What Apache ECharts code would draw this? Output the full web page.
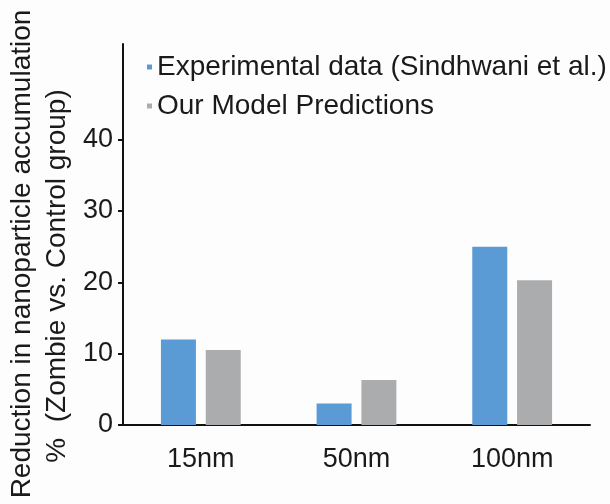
<!DOCTYPE html>
<html>
<head>
<meta charset="utf-8">
<script src="https://cdn.jsdelivr.net/npm/echarts@6/dist/echarts.min.js"></script>
<style>
html,body{margin:0;padding:0;background:#fdfdfd;}
#c{width:610px;height:504px;}
</style>
</head>
<body>
<div id="c"></div>
<script>
const categories = ['15nm', '50nm', '100nm'];
const seriesNames = ['Experimental data (Sindhwani et al.)', 'Our Model Predictions'];
const experimental = [12.0, 3.0, 25.0];
const model = [10.5, 6.3, 20.3];
const yTicks = [0, 10, 20, 30, 40];
const yTitle1 = 'Reduction in nanoparticle accumulation';
const yTitle2 = '%  (Zombie vs. Control group)';

const FONT = '"Liberation Sans", Arial, sans-serif';
const chart = echarts.init(document.getElementById('c'), null, {renderer: 'canvas'});
chart.setOption({
  backgroundColor: '#fdfdfd',
  animation: false,
  textStyle: {fontFamily: FONT},
  grid: {left: 123, right: 20, top: 44, bottom: 79, containLabel: false},
  legend: {
    orient: 'vertical',
    left: 142,
    top: 48,
    itemWidth: 5,
    itemHeight: 5,
    itemGap: 11,
    icon: 'rect',
    data: seriesNames,
    textStyle: {fontSize: 28, color: '#1a1a1a', fontFamily: FONT}
  },
  xAxis: {
    type: 'category',
    data: categories,
    axisLine: {show: true, lineStyle: {color: '#111', width: 2}},
    axisTick: {show: false},
    axisLabel: {fontSize: 27, color: '#1a1a1a', margin: 21, fontFamily: FONT},
    splitLine: {show: false}
  },
  yAxis: {
    type: 'value',
    min: 0,
    max: 53.4,
    interval: 10,
    axisLine: {show: true, lineStyle: {color: '#111', width: 2}},
    axisTick: {show: true, length: 5, lineStyle: {color: '#111', width: 2}, customValues: yTicks},
    axisLabel: {fontSize: 27, color: '#1a1a1a', margin: 10, fontFamily: FONT, customValues: yTicks},
    splitLine: {show: false}
  },
  series: [
    {
      name: seriesNames[0],
      type: 'bar',
      data: experimental,
      barWidth: 35,
      barGap: '28%',
      itemStyle: {color: '#5b9bd5'}
    },
    {
      name: seriesNames[1],
      type: 'bar',
      data: model,
      barWidth: 35,
      itemStyle: {color: '#abacae'}
    }
  ],
  graphic: [
    {
      type: 'text',
      x: 22, y: 254,
      rotation: Math.PI / 2,
      style: {text: yTitle1, fontSize: 28, fill: '#1a1a1a', align: 'center', verticalAlign: 'middle', fontFamily: FONT}
    },
    {
      type: 'text',
      x: 57, y: 276,
      rotation: Math.PI / 2,
      style: {text: yTitle2, fontSize: 28, fill: '#1a1a1a', align: 'center', verticalAlign: 'middle', fontFamily: FONT}
    }
  ]
});
</script>
</body>
</html>
